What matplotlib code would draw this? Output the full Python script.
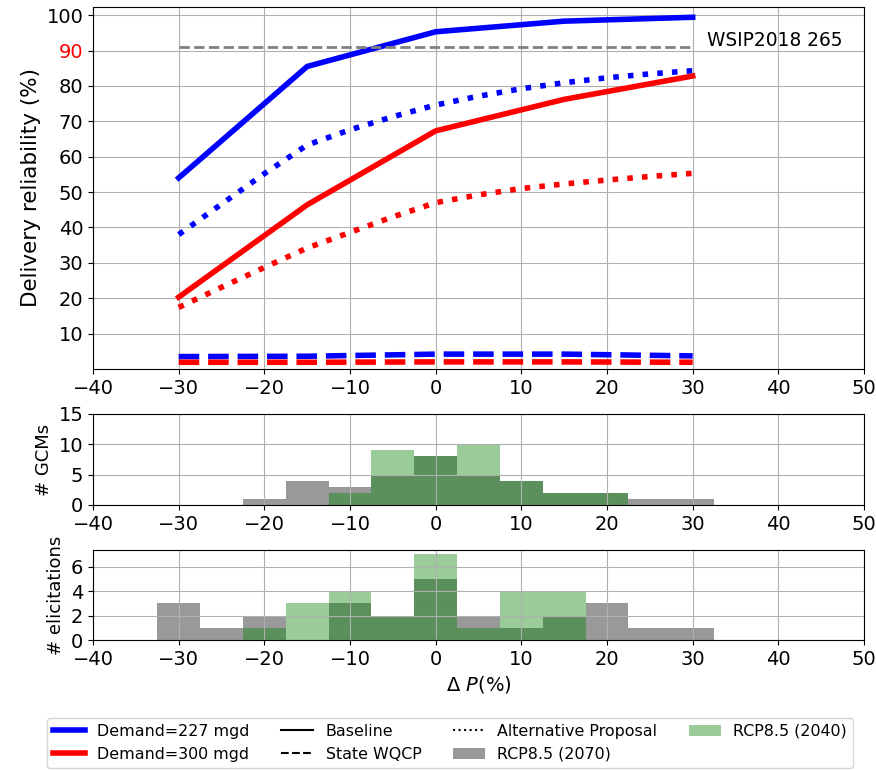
import matplotlib
matplotlib.use("Agg")
import matplotlib.pyplot as plt
from matplotlib.lines import Line2D
from matplotlib.patches import Patch

# Precipitation change scenarios (%)
dp_coarse = [-30, -15, 0, 15, 30]
dp_fine = [-30, -25, -20, -15, -10, -5, 0, 5, 10, 15, 20, 25, 30]

# Delivery reliability (%) for each demand level and regulatory scenario
base_227 = [54.0, 85.5, 95.3, 98.3, 99.4]
base_300 = [20.3, 46.4, 67.3, 76.2, 82.8]
wqcp_227 = [3.5, 3.6, 4.2, 4.2, 3.7]
wqcp_300 = [1.9, 1.9, 2.0, 2.0, 1.9]
alt_227 = [38.0, 46.6, 55.2, 63.3, 67.6, 71.3, 74.6, 77.1, 79.2, 80.9, 82.3, 83.4, 84.3]
alt_300 = [17.4, 23.1, 28.7, 34.2, 38.6, 43.0, 47.0, 49.2, 51.0, 52.3, 53.4, 54.4, 55.3]

wsip_level = 91.0
wsip_label = "WSIP2018 265"

# Histogram bin centres (bin width 5 %)
bin_centers = [-30, -25, -20, -15, -10, -5, 0, 5, 10, 15, 20, 25, 30]
gcm_2070 = [0, 0, 1, 4, 3, 5, 8, 5, 4, 2, 2, 1, 1]
gcm_2040 = [0, 0, 0, 0, 2, 9, 8, 10, 4, 2, 2, 0, 0]
elic_2070 = [3, 1, 2, 0, 3, 2, 5, 2, 1, 2, 3, 1, 1]
elic_2040 = [0, 0, 1, 3, 4, 2, 7, 1, 4, 4, 0, 0, 0]

xticks = [-40, -30, -20, -10, 0, 10, 20, 30, 40, 50]

fig = plt.figure(figsize=(8.76, 7.7), dpi=100)

ax1 = fig.add_axes([0.1062, 0.5208, 0.8801, 0.4701])
ax2 = fig.add_axes([0.1062, 0.3442, 0.8801, 0.1182])
ax3 = fig.add_axes([0.1062, 0.1688, 0.8801, 0.1169])

lw = 4
ax1.plot(dp_coarse, base_227, color="blue", lw=lw, ls="-")
ax1.plot(dp_coarse, wqcp_227, color="blue", lw=lw, ls="--")
ax1.plot(dp_fine, alt_227, color="blue", lw=lw, ls=":")
ax1.plot(dp_coarse, base_300, color="red", lw=lw, ls="-")
ax1.plot(dp_coarse, wqcp_300, color="red", lw=lw, ls="--")
ax1.plot(dp_fine, alt_300, color="red", lw=lw, ls=":")
ax1.plot([dp_coarse[0], dp_coarse[-1]], [wsip_level, wsip_level],
         color="gray", lw=2, ls="--")
ax1.text(31.7, 92.9, wsip_label, fontsize=13.4, va="center", ha="left")

ax1.set_xlim(-40, 50)
ax1.set_ylim(0, 102.3)
ax1.set_yticks(range(10, 101, 10))
ax1.set_xticks(xticks)
ax1.set_ylabel("Delivery reliability (%)", fontsize=15.5)
ax1.tick_params(labelsize=14)
ax1.grid(True)
for lab in ax1.get_yticklabels():
    if lab.get_text() == "90":
        lab.set_color("red")

for ax, c70, c40, ylabel, yt, ymax in [
    (ax2, gcm_2070, gcm_2040, "# GCMs", [0, 5, 10, 15], 15),
    (ax3, elic_2070, elic_2040, "# elicitations", [0, 2, 4, 6], 7.35),
]:
    ax.bar(bin_centers, c70, width=5, color="k", alpha=0.4, lw=0)
    ax.bar(bin_centers, c40, width=5, color="g", alpha=0.4, lw=0)
    ax.set_xlim(-40, 50)
    ax.set_ylim(0, ymax)
    ax.set_yticks(yt)
    ax.set_xticks(xticks)
    ax.set_ylabel(ylabel, fontsize=13)
    ax.tick_params(labelsize=14)
    ax.grid(True)

ax3.set_xlabel(r"$\Delta\ P(\%)$", fontsize=14)

handles = [
    Line2D([], [], color="blue", lw=4),
    Line2D([], [], color="red", lw=4),
    Line2D([], [], color="k", lw=1.5, ls="-"),
    Line2D([], [], color="k", lw=1.5, ls="--"),
    Line2D([], [], color="k", lw=1.5, ls=":"),
    Patch(facecolor="k", alpha=0.4),
    Patch(facecolor="g", alpha=0.4),
]
labels = ["Demand=227 mgd", "Demand=300 mgd", "Baseline", "State WQCP",
          "Alternative Proposal", "RCP8.5 (2070)", "RCP8.5 (2040)"]
fig.legend(handles, labels, loc="lower center", ncol=4, fontsize=11.4,
           bbox_to_anchor=(0.5137, -0.008))

fig.savefig("out.png", dpi=100)
